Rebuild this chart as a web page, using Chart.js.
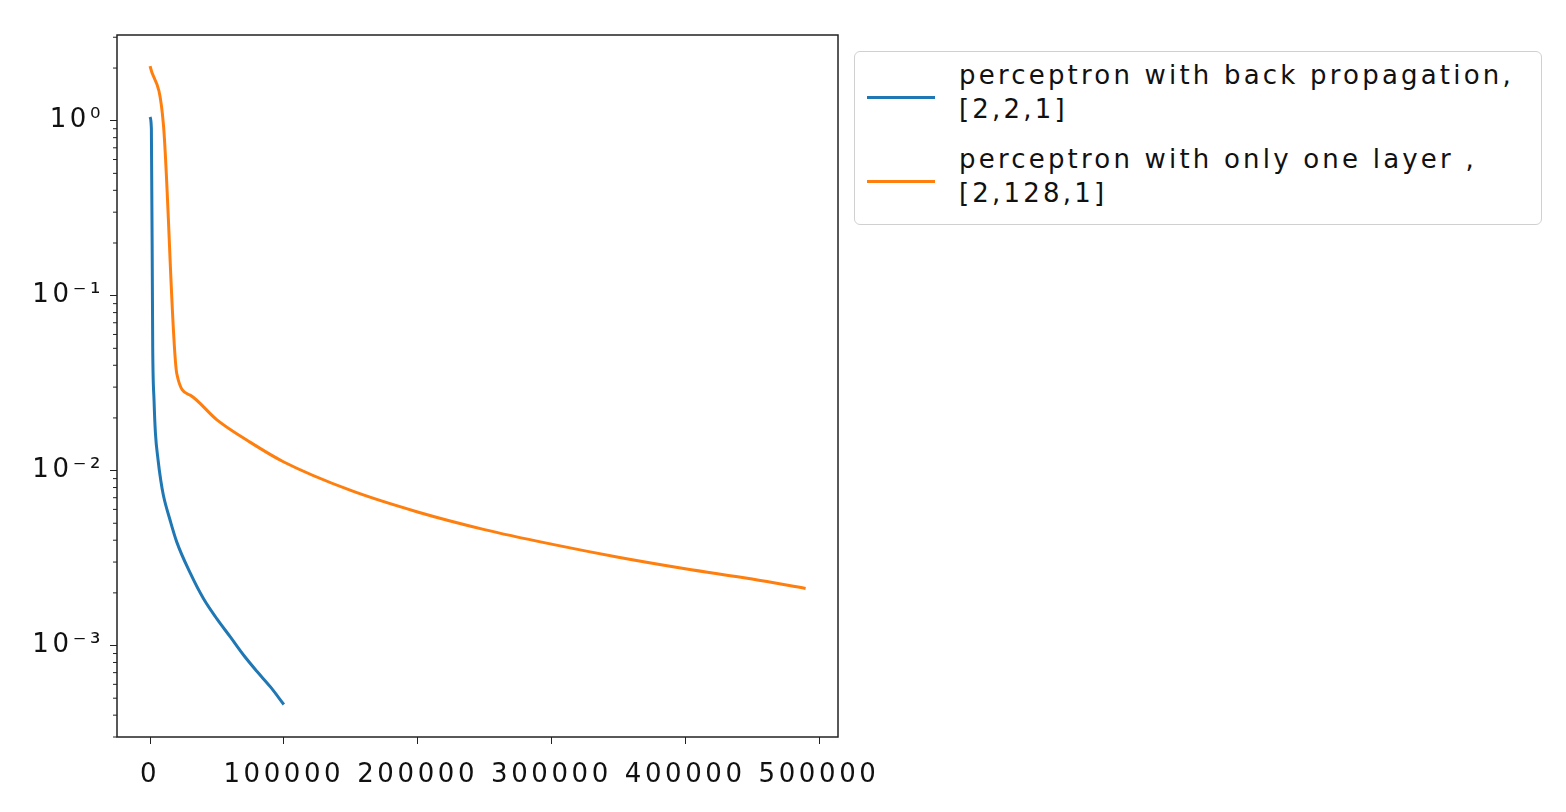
<!DOCTYPE html>
<html><head><meta charset="utf-8">
<script src="https://cdn.jsdelivr.net/npm/chart.js@4"></script>
<style>
html,body{margin:0;padding:0;background:#fff;}
#wrap{position:relative;width:1566px;height:812px;}
#legend{position:absolute;left:854px;top:51px;width:688px;height:174px;border:1.5px solid #d0d0d0;border-radius:6px;background:#fff;font-family:"DejaVu Sans";font-size:26px;letter-spacing:3.2px;color:#111;box-sizing:border-box;}
.line{position:absolute;left:12px;width:68px;height:3px;}
.txt{position:absolute;left:104px;line-height:34px;white-space:nowrap;}
</style></head><body>
<div id="wrap"><canvas id="c" width="1566" height="812"></canvas>
<div id="legend"></div></div>
<script>
const labelsLegend = ["perceptron with back propagation,\n[2,2,1]", "perceptron with only one layer ,\n[2,128,1]"];
const colors = ["#1f77b4", "#ff7f0e"];
const blueX = [0, 1000, 2000, 3000, 4000, 6000, 8000, 10000, 15000, 20000, 30000, 40000, 50000, 60000, 70000, 80000, 90000, 100000];
const blueY = [1.05, 0.9, 0.05, 0.025, 0.0165, 0.0115, 0.0088, 0.0072, 0.0052, 0.0039, 0.0026, 0.00185, 0.00142, 0.00112, 0.00088, 0.00071, 0.00058, 0.00046];
const orangeX = [0, 10000, 20000, 30000, 50000, 75000, 100000, 150000, 200000, 250000, 300000, 350000, 400000, 450000, 490000];
const orangeY = [2.05, 0.95, 0.0358, 0.027, 0.0195, 0.0145, 0.0112, 0.0077, 0.0058, 0.0046, 0.0038, 0.0032, 0.00275, 0.0024, 0.00212];
const xTicks = [0, 100000, 200000, 300000, 400000, 500000];
const yTicks = [0.001, 0.01, 0.1, 1];
const yTickLabels = ["10⁻³", "10⁻²", "10⁻¹", "10⁰"];

const leg = document.getElementById('legend');
labelsLegend.forEach((t, i) => {
  const top = 6 + i * 84;
  leg.insertAdjacentHTML('beforeend',
    `<div class="line" style="top:${top+38}px;background:${colors[i]}"></div><div class="txt" style="top:${top}px">${t.replace('\n','<br>')}</div>`);
});

const font = {family: "DejaVu Sans", size: 26};
const spacing = {
  id: 'spacing',
  beforeDraw(ch) { ch.ctx.letterSpacing = '3.6px'; },
  beforeDatasetsDraw(ch) { ch.ctx.letterSpacing = '0px'; }
};
const frame = {
  id: 'frame',
  afterDraw(ch) {
    const {ctx, chartArea: a, scales} = ch;
    ctx.save();
    ctx.strokeStyle = '#222'; ctx.lineWidth = 1.5;
    ctx.strokeRect(a.left, a.top, a.right - a.left, a.bottom - a.top);
    const y = scales.y;
    ctx.lineWidth = 1;
    for (let e = -4; e <= 1; e++) {
      for (let m = 2; m <= 9; m++) {
        const v = m * Math.pow(10, e);
        if (v < y.min || v > y.max) continue;
        const p = y.getPixelForValue(v);
        ctx.beginPath(); ctx.moveTo(a.left, p); ctx.lineTo(a.left - 4, p); ctx.stroke();
      }
    }
    ctx.restore();
  }
};
new Chart(document.getElementById('c'), {
  type: 'line',
  data: {datasets: [
    {data: blueX.map((x, i) => ({x, y: blueY[i]})), borderColor: colors[0], borderWidth: 3, pointRadius: 0, cubicInterpolationMode: 'monotone'},
    {data: orangeX.map((x, i) => ({x, y: orangeY[i]})), borderColor: colors[1], borderWidth: 3, pointRadius: 0, cubicInterpolationMode: 'monotone'}
  ]},
  options: {
    responsive: false, animation: false, devicePixelRatio: 1,
    layout: {padding: {left: 0, top: 35, right: 728, bottom: 0}},
    plugins: {legend: {display: false}, tooltip: {enabled: false}},
    scales: {
      x: {type: 'linear', min: -24700, max: 514200,
        afterBuildTicks: s => { s.ticks = xTicks.map(v => ({value: v})); },
        afterFit: s => { s.height = 75; },
        grid: {drawOnChartArea: false, tickLength: 7, color: '#222'},
        border: {display: false},
        ticks: {font, color: '#111', maxRotation: 0, padding: 16, callback: v => String(v)}},
      y: {type: 'logarithmic', min: 3.11e-4, max: 3.09,
        afterBuildTicks: s => { s.ticks = yTicks.map(v => ({value: v})); },
        afterFit: s => { s.width = 117; },
        grid: {drawOnChartArea: false, tickLength: 7, color: '#222'},
        border: {display: false},
        ticks: {font, color: '#111', padding: 6, callback: v => yTickLabels[yTicks.findIndex(t => Math.abs(t - v) / t < 1e-6)] || ''}}
    }
  },
  plugins: [spacing, frame]
});
</script></body></html>
